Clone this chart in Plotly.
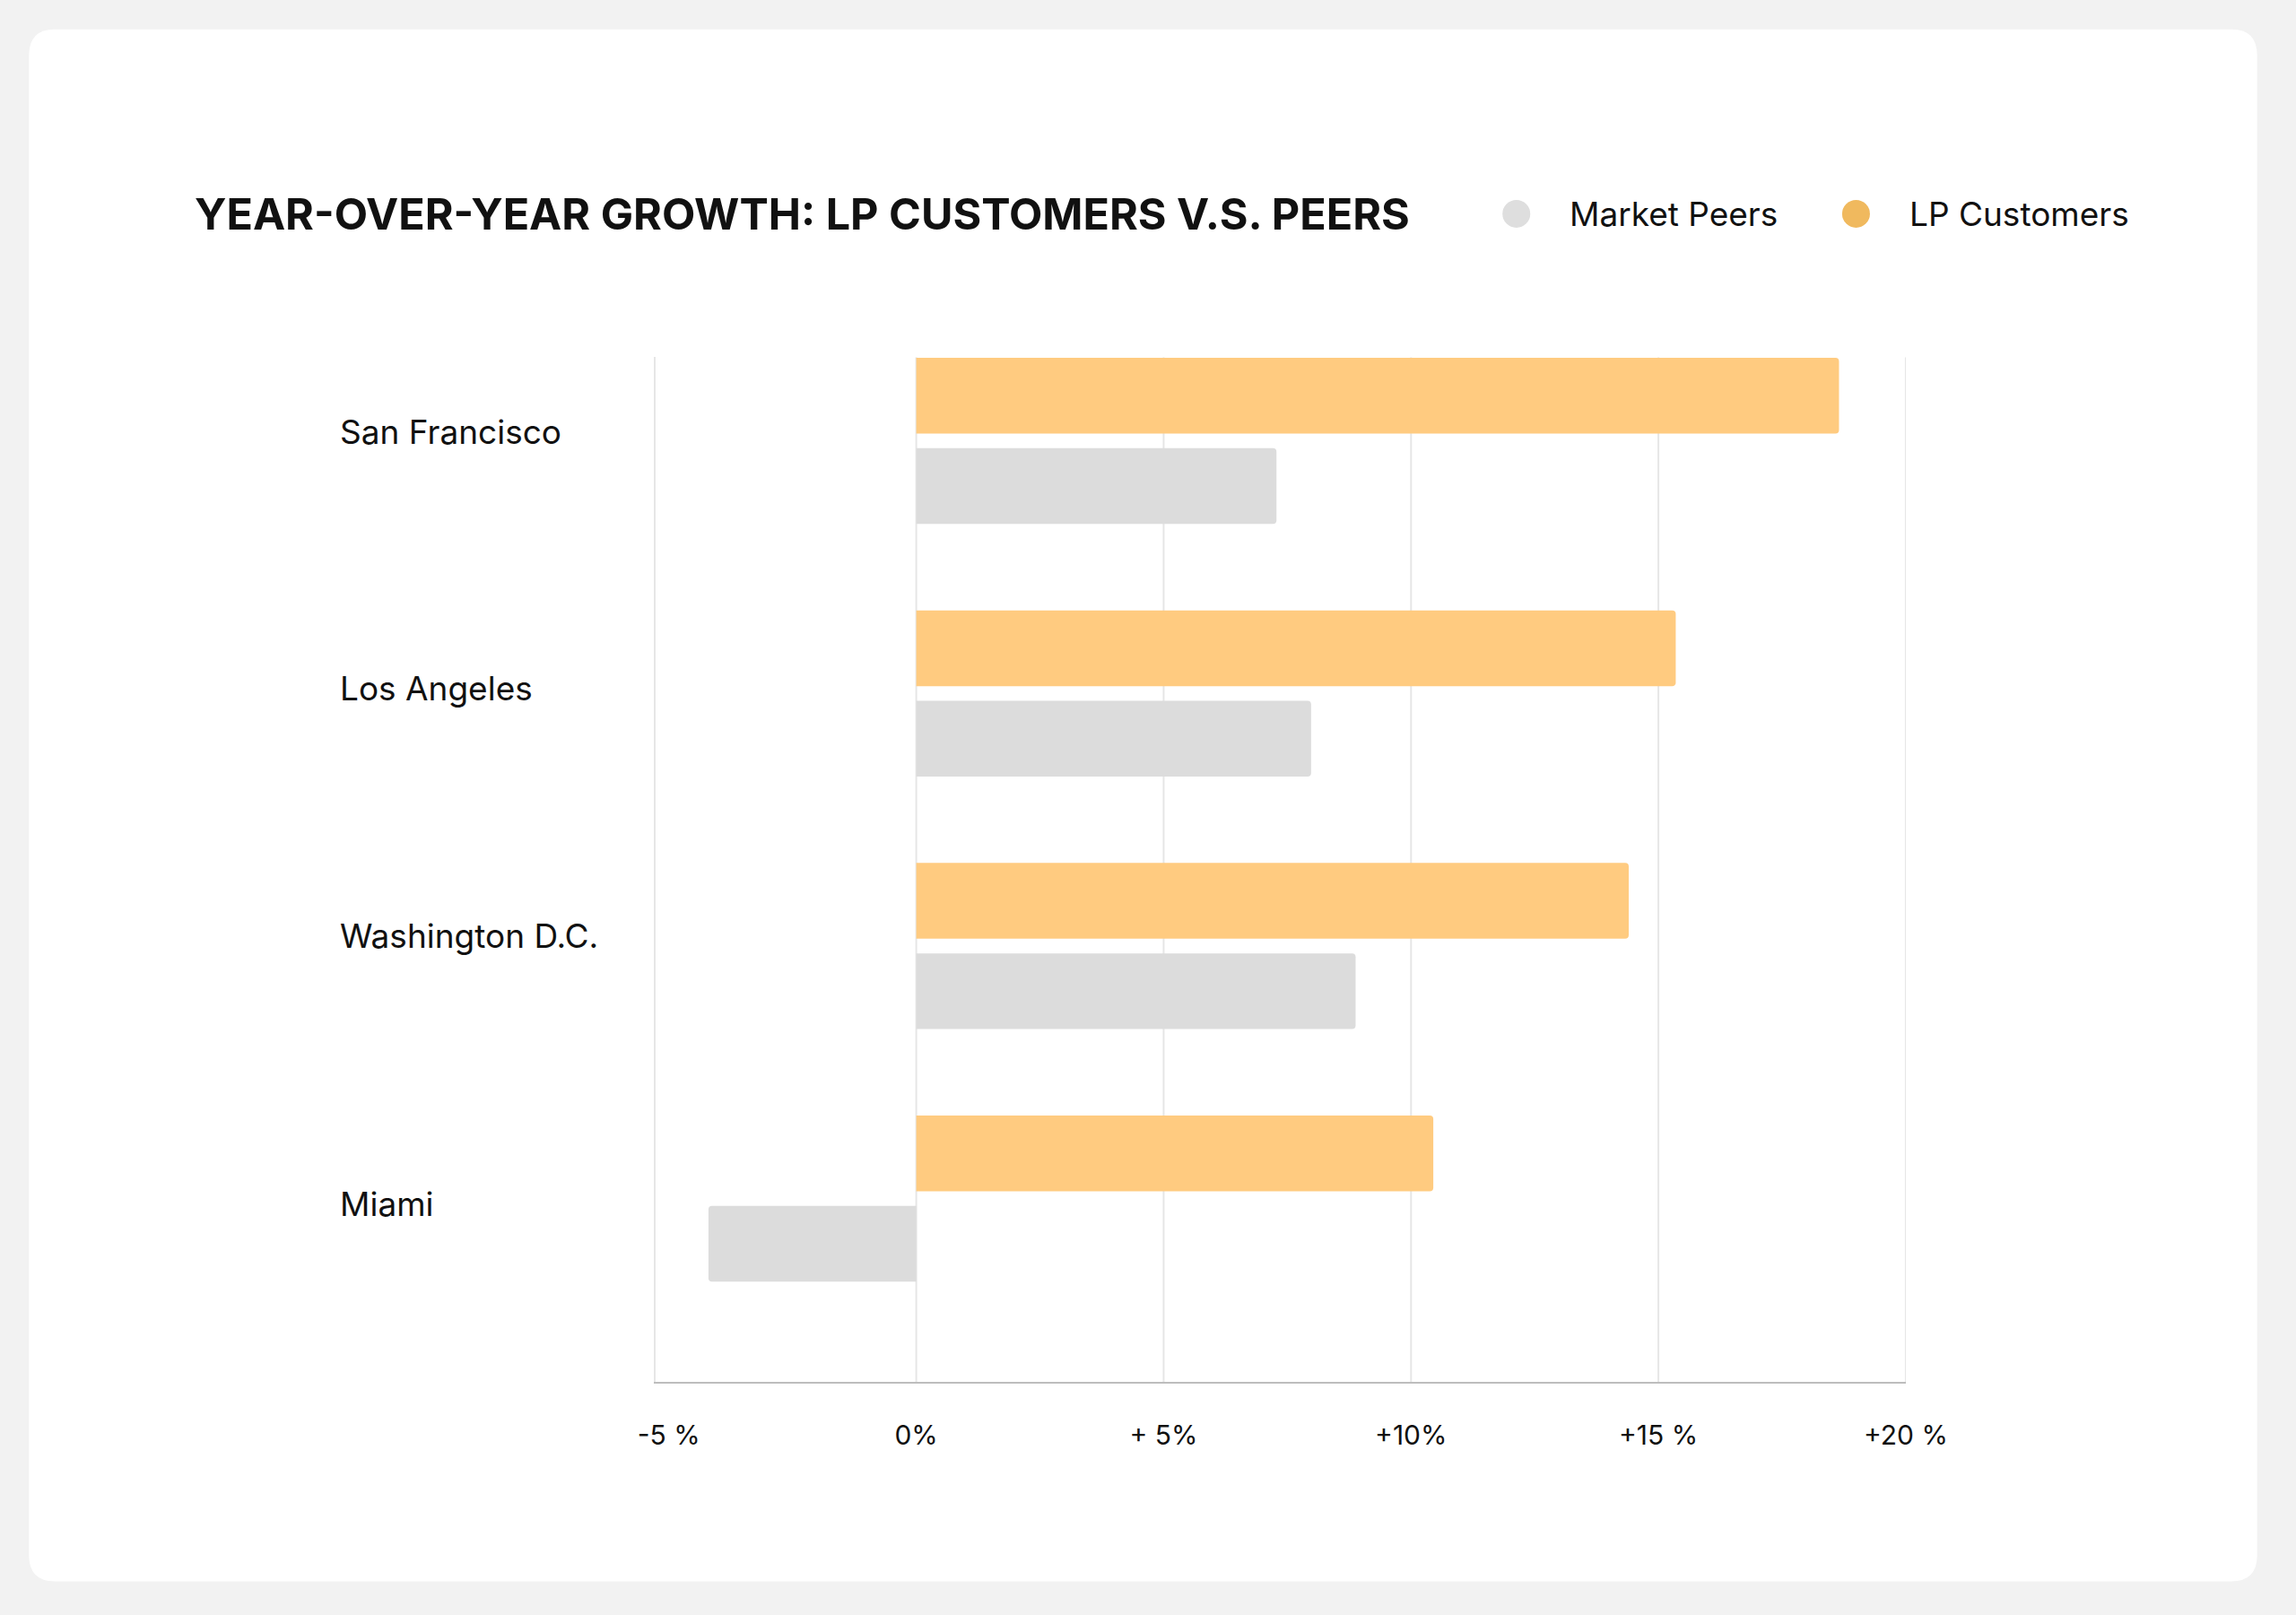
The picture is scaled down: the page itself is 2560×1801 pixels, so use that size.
import plotly.graph_objects as go

# data
cities = ["San Francisco", "Los Angeles", "Washington D.C.", "Miami"]
lp_customers = [18.65, 15.35, 14.4, 10.45]
market_peers = [7.28, 7.98, 8.88, -4.2]
tick_vals = [-5, 0, 5, 10, 15, 20]
tick_text = ["-5 %", "0%", "+ 5%", "+10%", "+15 %", "+20 %"]

# positions measured on a 1568 x 1103 view of the reference
VW, VH = 1568, 1103
FONT = "Inter"
INK = "#111111"
LP_BAR = "#ffcb80"
LP_DOT = "#f0b95e"
PEER_BAR = "#dcdcdc"
PEER_DOT = "#dedede"
label_shift = [10, 6, 11, -6]   # city labels are not exactly centred on their bars


def px(x):
    # horizontal calibration found by comparing a first render with the reference
    return (x - 12.5) / 0.974 / VW


def py(y):
    return 1 - y / VH


fig = go.Figure()

# white card with rounded corners (added first so gridlines sit on top of it)
x0, x1, y0, y1 = px(20), px(1542), py(1080), py(20)
rx, ry = 18 / VW, 18 / VH
card = (f"M {x0+rx},{y0} L {x1-rx},{y0} Q {x1},{y0} {x1},{y0+ry} "
        f"L {x1},{y1-ry} Q {x1},{y1} {x1-rx},{y1} L {x0+rx},{y1} "
        f"Q {x0},{y1} {x0},{y1-ry} L {x0},{y0+ry} Q {x0},{y0} {x0+rx},{y0} Z")
fig.add_shape(type="path", path=card, xref="paper", yref="paper",
              fillcolor="white", line=dict(width=0), layer="below")

fig.add_trace(go.Bar(
    y=cities, x=lp_customers, orientation="h",
    marker=dict(color=LP_BAR, line=dict(width=0)),
    width=0.30, offset=-0.329,
    name="LP Customers", showlegend=False, hoverinfo="skip",
))
fig.add_trace(go.Bar(
    y=cities, x=market_peers, orientation="h",
    marker=dict(color=PEER_BAR, line=dict(width=0)),
    width=0.30, offset=0.029,
    name="Market Peers", showlegend=False, hoverinfo="skip",
))

# vertical gridlines (skip the left edge, it is the y axis line)
for v in tick_vals:
    if v >= 0:
        fig.add_vline(x=v, line=dict(color="#e6e6e6", width=2), layer="below")

# city labels, left aligned
for c, s in zip(cities, label_shift):
    fig.add_annotation(x=px(231), y=c, xref="paper", yref="y",
                       text=c, showarrow=False, xanchor="left", yanchor="middle",
                       yshift=s, font=dict(family=FONT, size=37, color=INK))

# title
fig.add_annotation(x=px(132), y=py(146), xref="paper", yref="paper",
                   text="<b>YEAR-OVER-YEAR GROWTH: LP CUSTOMERS V.S. PEERS</b>",
                   showarrow=False, xanchor="left", yanchor="middle",
                   font=dict(family=FONT, size=48.5, color=INK))

# legend drawn by hand (plotly caps legend marker size)
legend_items = [("Market Peers", PEER_DOT, 1036, 1071), ("LP Customers", LP_DOT, 1268, 1303)]
for label, col, cx, tx in legend_items:
    fig.add_shape(type="circle", xref="paper", yref="paper",
                  xsizemode="pixel", ysizemode="pixel",
                  xanchor=px(cx), yanchor=py(146),
                  x0=-15.5, x1=15.5, y0=-15.5, y1=15.5,
                  fillcolor=col, line=dict(width=0))
    fig.add_annotation(x=px(tx), y=py(146), xref="paper", yref="paper",
                       text=label, showarrow=False, xanchor="left", yanchor="middle",
                       font=dict(family=FONT, size=37, color=INK))

fig.update_layout(
    autosize=True,
    margin=dict(l=0, r=0, t=0, b=0),
    paper_bgcolor="#f2f2f2",
    plot_bgcolor="rgba(0,0,0,0)",
    barmode="overlay",
    barcornerradius=4,
    showlegend=False,
    xaxis=dict(
        domain=[px(448), px(1302)],
        range=[-5.27, 20],
        tickmode="array", tickvals=tick_vals, ticktext=tick_text,
        showgrid=False, zeroline=False,
        showline=True, linecolor="#bdbdbd", linewidth=2,
        ticks="", ticklabelstandoff=32,
        tickfont=dict(family=FONT, size=30, color=INK),
        fixedrange=True,
    ),
    yaxis=dict(
        domain=[py(944), py(244)],
        type="category", categoryorder="array", categoryarray=cities,
        range=[3.727, -0.331],
        showticklabels=False, showgrid=False, zeroline=False,
        showline=True, linecolor="#e6e6e6", linewidth=2,
        ticks="", fixedrange=True,
    ),
)

# fill the whole window, no page margin
fig.write_html(
    "out.html",
    config={"displayModeBar": False, "responsive": True},
    default_width="100vw",
    default_height="100vh",
    post_script="document.body.style.margin='0';document.body.style.overflow='hidden';"
                "document.body.style.background='#f2f2f2';"
                "Plotly.Plots.resize(document.getElementById('{plot_id}'));",
)
